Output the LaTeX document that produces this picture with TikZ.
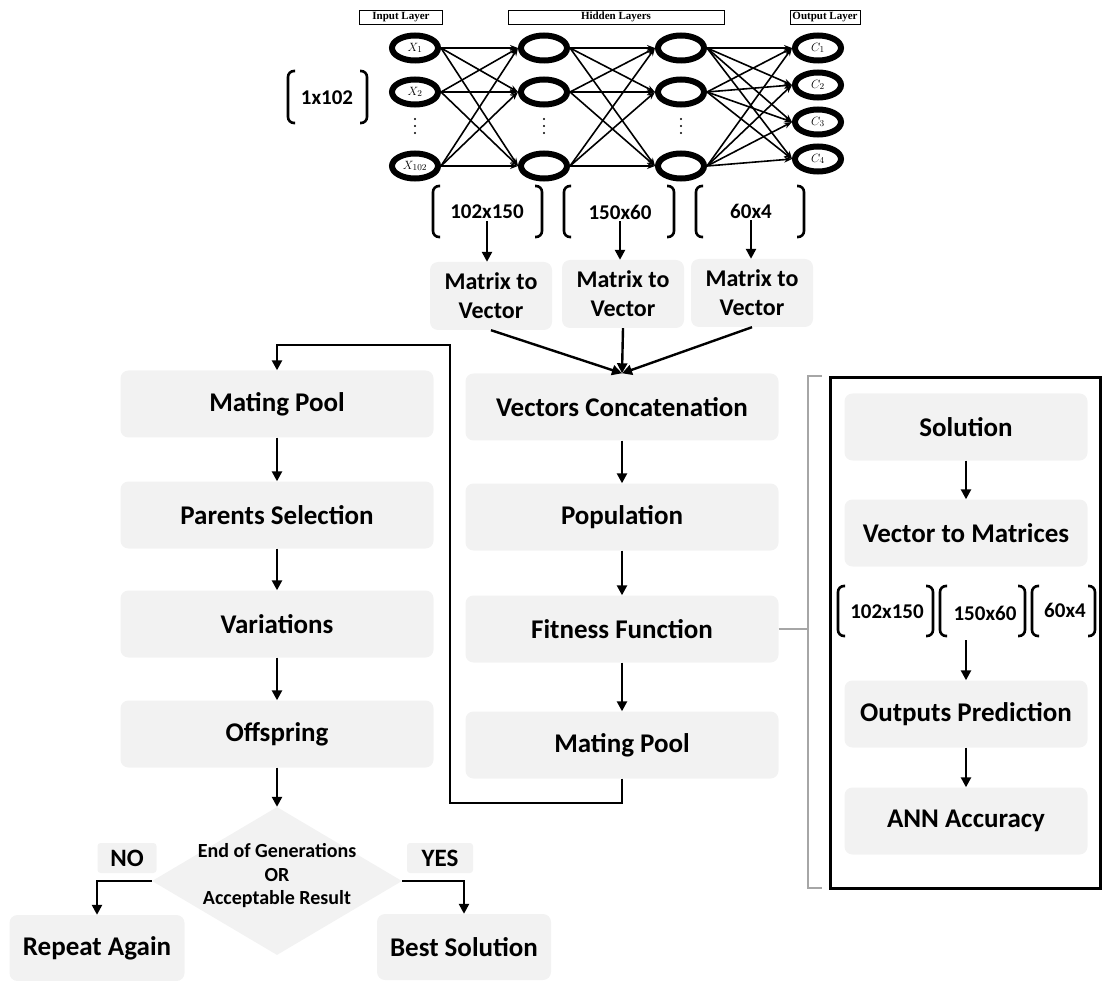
\documentclass[tikz,border=0pt]{standalone}
\usepackage{fontspec}
\setmainfont{Carlito}
\newfontfamily\serifb{Liberation Serif}
\usetikzlibrary{shapes.geometric,arrows.meta,calc}
\definecolor{boxgray}{HTML}{F2F2F2}
\definecolor{brgray}{HTML}{A6A6A6}
\begin{document}
\begin{tikzpicture}[x=1pt,y=-1pt,
  flow/.style={fill=boxgray, rounded corners=8pt, font=\fontsize{27}{30}\selectfont\bfseries, align=center, inner sep=0pt, minimum width=313pt, minimum height=67pt},
  rflow/.style={flow, minimum width=243pt},
  mtv/.style={flow, minimum width=122pt, minimum height=68pt, font=\fontsize{24}{29}\selectfont\bfseries},
  neuron/.style={draw, ellipse, line width=6pt, minimum width=46pt, minimum height=25pt, inner sep=0pt, font=\fontsize{13}{13}\selectfont},
  hdr/.style={draw, line width=0.9pt, font=\serifb\fontsize{11}{11}\selectfont\bfseries, inner sep=0pt, minimum height=14pt},
  arr/.style={line width=2.4pt, -{Triangle[length=10pt,width=10pt]}},
  nn/.style={line width=1.6pt, -{Stealth[length=8pt,width=6pt]}},
  brk/.style={line width=2.6pt, rounded corners=6pt},
  dimtxt/.style={font=\fontsize{21}{22}\selectfont\bfseries, inner sep=0pt},
  lbl/.style={fill=boxgray, rounded corners=3pt, font=\fontsize{25}{26}\selectfont\bfseries, minimum height=30pt, inner sep=0pt},
  dot/.style={circle, fill, inner sep=0pt, minimum size=2.2pt},
]
\useasboundingbox (0,0) rectangle (1106,981);

% ---------- headers ----------
\node[hdr, minimum width=83pt] (hin) at (401,17) {Input Layer};
\node[hdr, minimum width=216pt] (hhid) at (616,17) {Hidden Layers};
\node[hdr, minimum width=70pt] (hout) at (825,17) {Output Layer};

% ---------- neurons ----------
\node[neuron] (i1) at (415,48) {\(X_{1}\)};
\node[neuron] (i2) at (415,92) {\(X_{2}\)};
\node[neuron] (i3) at (415,166) {\(X_{102}\)};
\node[neuron] (a1) at (544,48) {};
\node[neuron] (a2) at (544,92) {};
\node[neuron] (a3) at (544,166) {};
\node[neuron] (b1) at (681,48) {};
\node[neuron] (b2) at (681,92) {};
\node[neuron] (b3) at (681,166) {};
\node[neuron] (o1) at (818,48) {\(C_{1}\)};
\node[neuron] (o2) at (818,85) {\(C_{2}\)};
\node[neuron] (o3) at (818,122) {\(C_{3}\)};
\node[neuron] (o4) at (818,159) {\(C_{4}\)};
\foreach \x/\n in {415/p,544/q,681/r}{
  \foreach \y/\m in {119/1,126/2,133/3}{\node[dot] (dot\n\m) at (\x,\y) {};}}

\foreach \s in {i1,i2,i3}{\foreach \t in {a1,a2,a3}{\draw[nn] (\s.east) -- (\t.west);}}
\foreach \s in {a1,a2,a3}{\foreach \t in {b1,b2,b3}{\draw[nn] (\s.east) -- (\t.west);}}
\foreach \s in {b1,b2,b3}{\foreach \t in {o1,o2,o3,o4}{\draw[nn] (\s.east) -- (\t.west);}}

% ---------- dimension brackets ----------
\draw[brk] (295,71) -- (288,71) -- (288,123) -- (295,123);
\draw[brk] (360,71) -- (367,71) -- (367,123) -- (360,123);
\node[dimtxt] (d1x102) at (327,98) {1x102};

\draw[brk] (440,186) -- (433,186) -- (433,237) -- (440,237);
\draw[brk] (535,186) -- (542,186) -- (542,237) -- (535,237);
\node[dimtxt] (t1) at (487,212) {102x150};
\draw[brk] (571,186) -- (564,186) -- (564,237) -- (571,237);
\draw[brk] (667,186) -- (674,186) -- (674,237) -- (667,237);
\node[dimtxt] (t2) at (620,212) {150x60};
\draw[brk] (703,186) -- (696,186) -- (696,237) -- (703,237);
\draw[brk] (797,186) -- (804,186) -- (804,237) -- (797,237);
\node[dimtxt] (t3) at (751,211) {60x4};

% ---------- matrix to vector ----------
\node[mtv] (m1) at (491,296) {Matrix to\\Vector};
\node[mtv] (m2) at (623,294) {Matrix to\\Vector};
\node[mtv] (m3) at (752,293) {Matrix to\\Vector};
\draw[arr] ([yshift=-2pt]t1.south) -- (t1.south |- m1.north);
\draw[arr] ([yshift=-2pt]t2.south) -- (t2.south |- m2.north);
\draw[arr] ([yshift=-2pt]t3.south) -- (t3.south |- m3.north);

% ---------- middle column ----------
\node[flow] (vc) at (622,407) {Vectors Concatenation};
\node[flow] (pop) at (622,517) {Population};
\node[flow] (fit) at (622,629) {Fitness Function};
\node[flow] (mp2) at (622,745) {Mating Pool};
\draw[arr] (m1.south) -- (vc.north);
\draw[arr] (m2.south) -- (vc.north);
\draw[arr] (m3.south) -- (vc.north);
\draw[arr] (vc) -- (pop);
\draw[arr] (pop) -- (fit);
\draw[arr] (fit) -- (mp2);

% ---------- left column ----------
\node[flow] (mp1) at (277,404) {Mating Pool};
\node[flow] (ps) at (277,515) {Parents Selection};
\node[flow] (var) at (277,624) {Variations};
\node[flow] (off) at (277,734) {Offspring};
\draw[arr] (mp1) -- (ps);
\draw[arr] (ps) -- (var);
\draw[arr] (var) -- (off);

\coordinate (la) at (450,803);
\coordinate (lb) at (450,345);
\draw[arr] (mp2.south) |- (la) -- (lb) -| (mp1.north);

% ---------- decision ----------
\node[diamond, fill=boxgray, minimum width=250pt, minimum height=148pt, inner sep=0pt] (dia) at (277,881) {};
\node[font=\fontsize{20}{23.5}\selectfont\bfseries, align=center] (diat) at (277,876) {End of Generations\\OR\\Acceptable Result};
\draw[arr] (off) -- (dia.north);

\node[lbl, minimum width=59pt] (no) at (127,858) {NO};
\node[lbl, minimum width=66pt] (yes) at (440,858) {YES};

\node[flow, minimum width=175pt, minimum height=66pt] (rep) at (97,948) {Repeat Again};
\node[flow, minimum width=174pt, minimum height=66pt] (best) at (464,947) {Best Solution};
\draw[arr] (dia.west) -| (rep.north);
\draw[arr] (dia.east) -| (best.north);

% ---------- right panel ----------
\node[draw, line width=3pt, minimum width=270pt, minimum height=510pt, inner sep=0pt] (panel) at (965,633) {};
\coordinate (gb) at (808,629);
\draw[brgray, line width=2.5pt] (fit.east) -- (gb);
\draw[brgray, line width=2.5pt] (822,376) -- (808,376) -- (808,888) -- (822,888);

\node[rflow] (sol) at (966,427) {Solution};
\node[rflow] (v2m) at (966,533) {Vector to Matrices};
\node[rflow] (op) at (966,714) {Outputs Prediction};
\node[rflow] (acc) at (966,821) {ANN Accuracy};

\draw[brk] (845,586) -- (838,586) -- (838,636) -- (845,636);
\draw[brk] (926,586) -- (933,586) -- (933,636) -- (926,636);
\node[dimtxt] (r1) at (887,612) {102x150};
\draw[brk] (947,586) -- (940,586) -- (940,636) -- (947,636);
\draw[brk] (1018,586) -- (1025,586) -- (1025,636) -- (1018,636);
\node[dimtxt] (r2) at (985,613) {150x60};
\draw[brk] (1039,586) -- (1032,586) -- (1032,636) -- (1039,636);
\draw[brk] (1088,586) -- (1095,586) -- (1095,636) -- (1088,636);
\node[dimtxt] (r3) at (1065,610) {60x4};

\coordinate (rb) at (966,640);
\draw[arr] (sol) -- (v2m);
\draw[arr] (rb) -- (op.north);
\draw[arr] (op) -- (acc);
\end{tikzpicture}
\end{document}
